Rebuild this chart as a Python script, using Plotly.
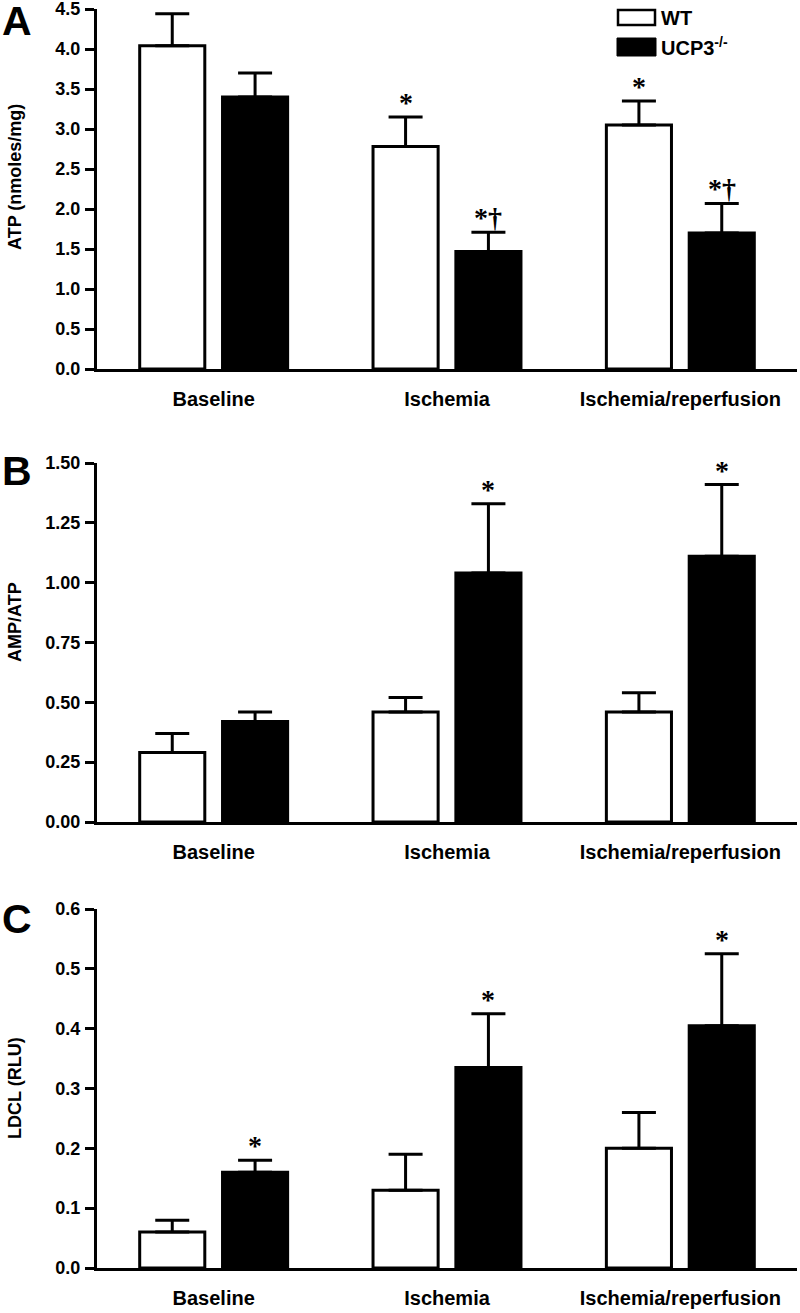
import plotly.graph_objects as go

categories = ["Baseline", "Ischemia", "Ischemia/reperfusion"]

atp_wt = [4.04, 2.78, 3.05]
atp_wt_err = [0.40, 0.37, 0.30]
atp_ko = [3.40, 1.47, 1.70]
atp_ko_err = [0.30, 0.24, 0.37]
atp_marks_wt = ["", "*", "*"]
atp_marks_ko = ["", "*†", "*†"]

amp_wt = [0.29, 0.46, 0.46]
amp_wt_err = [0.08, 0.06, 0.08]
amp_ko = [0.42, 1.04, 1.11]
amp_ko_err = [0.04, 0.29, 0.30]
amp_marks_wt = ["", "", ""]
amp_marks_ko = ["", "*", "*"]

ldcl_wt = [0.06, 0.13, 0.20]
ldcl_wt_err = [0.02, 0.06, 0.06]
ldcl_ko = [0.16, 0.335, 0.405]
ldcl_ko_err = [0.02, 0.09, 0.12]
ldcl_marks_wt = ["", "", ""]
ldcl_marks_ko = ["*", "*", "*"]

panels = [
    dict(letter="A", title="ATP (nmoles/mg)", wt=atp_wt, wte=atp_wt_err, ko=atp_ko, koe=atp_ko_err,
         mwt=atp_marks_wt, mko=atp_marks_ko, rng=[0, 4.5], dt=0.5, fmt=".1f", tcy=177, lcy=18),
    dict(letter="B", title="AMP/ATP", wt=amp_wt, wte=amp_wt_err, ko=amp_ko, koe=amp_ko_err,
         mwt=amp_marks_wt, mko=amp_marks_ko, rng=[0, 1.5], dt=0.25, fmt=".2f", tcy=622, lcy=468),
    dict(letter="C", title="LDCL (RLU)", wt=ldcl_wt, wte=ldcl_wt_err, ko=ldcl_ko, koe=ldcl_ko_err,
         mwt=ldcl_marks_wt, mko=ldcl_marks_ko, rng=[0, 0.6], dt=0.1, fmt=".1f", tcy=1088, lcy=916),
]

W, H = 800, 1313
ML, MR, MT, MB = 97, 3, 9, 45
ph = H - MT - MB
pw = W - ML - MR
pix = [(9, 369), (463, 822), (909, 1268)]


def pfrac(y):
    return (H - MB - y) / ph


def pxx(x):
    return (x - ML) / pw


FONT = "Liberation Sans"
SERIF = "Liberation Serif"
fig = go.Figure()
annotations = []
shapes = []
bw = 0.279
offs = (-0.317, 0.038)
unit_px = pw / 3.0
for i, p in enumerate(panels):
    n = "" if i == 0 else str(i + 1)
    xa, ya = "x" + n, "y" + n
    for vals, errs, fill, off, name in ((p["wt"], p["wte"], "white", offs[0], "WT"),
                                        (p["ko"], p["koe"], "black", offs[1], "UCP3-/-")):
        fig.add_trace(go.Bar(x=categories, y=vals, xaxis=xa, yaxis=ya, width=bw, offset=off,
                             marker=dict(color=fill, line=dict(color="black", width=3)),
                             error_y=dict(type="data", array=errs, symmetric=False, arrayminus=[0] * 3,
                                          color="black", thickness=3, width=17),
                             showlegend=False, name=name))
    top, bot = pix[i]
    dom = [pfrac(bot), pfrac(top)]
    nt = int(round((p["rng"][1] - p["rng"][0]) / p["dt"]))
    tv = [round(p["rng"][0] + k * p["dt"], 4) for k in range(nt + 1)]
    fig.layout["xaxis" + n] = dict(domain=[0, 1], anchor=ya, type="category", range=[-0.5, 2.5],
                                   showline=True, linecolor="black", linewidth=3, ticks="",
                                   automargin=False, ticklabeloverflow="allow",
                                   tickfont=dict(family=FONT, size=20, color="black", weight="bold"),
                                   ticklabelstandoff=10, showgrid=False, zeroline=False, fixedrange=True)
    fig.layout["yaxis" + n] = dict(domain=dom, anchor=xa, range=p["rng"], tickvals=tv,
                                   ticktext=[format(v, p["fmt"]) for v in tv], automargin=False,
                                   ticklabeloverflow="allow",
                                   showline=True, linecolor="black", linewidth=3, ticks="outside",
                                   ticklen=9, tickwidth=3, tickcolor="black", ticklabelstandoff=1,
                                   tickfont=dict(family=FONT, size=18, color="black", weight="bold"),
                                   showgrid=False, zeroline=False, fixedrange=True)
    annotations.append(dict(xref="paper", yref="paper", x=pxx(15), y=pfrac(p["tcy"]),
                            text=p["title"], textangle=-90, showarrow=False,
                            xanchor="center", yanchor="middle",
                            font=dict(family=FONT, size=18, color="black", weight="bold")))
    annotations.append(dict(xref="paper", yref="paper", x=pxx(0), y=pfrac(p["lcy"] + 3),
                            text=p["letter"], showarrow=False, xanchor="left", yanchor="middle",
                            font=dict(family=FONT, size=41, color="black", weight="bold")))
    for j, c in enumerate(categories):
        for marks, vals, errs, off in ((p["mwt"], p["wt"], p["wte"], offs[0]),
                                       (p["mko"], p["ko"], p["koe"], offs[1])):
            if marks[j]:
                annotations.append(dict(xref=xa, yref=ya, x=c, xshift=(off + bw / 2) * unit_px,
                                        y=vals[j] + errs[j], text=marks[j], showarrow=False,
                                        xanchor="center", yanchor="bottom", yshift=-3,
                                        font=dict(family=SERIF, size=28, color="black", weight="bold")))

# legend drawn manually
shapes.append(dict(type="rect", xref="paper", yref="paper", x0=pxx(618), x1=pxx(655),
                   y0=pfrac(25), y1=pfrac(10), line=dict(color="black", width=2.5), fillcolor="white"))
shapes.append(dict(type="rect", xref="paper", yref="paper", x0=pxx(617), x1=pxx(656),
                   y0=pfrac(56), y1=pfrac(38), line=dict(color="black", width=1), fillcolor="black"))
annotations.append(dict(xref="paper", yref="paper", x=pxx(659), y=pfrac(18), text="WT",
                        showarrow=False, xanchor="left", yanchor="middle",
                        font=dict(family=FONT, size=20, color="black", weight="bold")))
annotations.append(dict(xref="paper", yref="paper", x=pxx(659), y=pfrac(46), text="UCP3<sup>-/-</sup>",
                        showarrow=False, xanchor="left", yanchor="middle",
                        font=dict(family=FONT, size=20, color="black", weight="bold")))

fig.update_layout(width=W, height=H, margin=dict(l=ML, r=MR, t=MT, b=MB, autoexpand=False),
                  plot_bgcolor="white", paper_bgcolor="white", barmode="overlay",
                  annotations=annotations, shapes=shapes, showlegend=False)
fig.write_html("out.html", config={"displayModeBar": False},
               post_script="document.body.style.margin='0';document.body.style.overflow='hidden';")
